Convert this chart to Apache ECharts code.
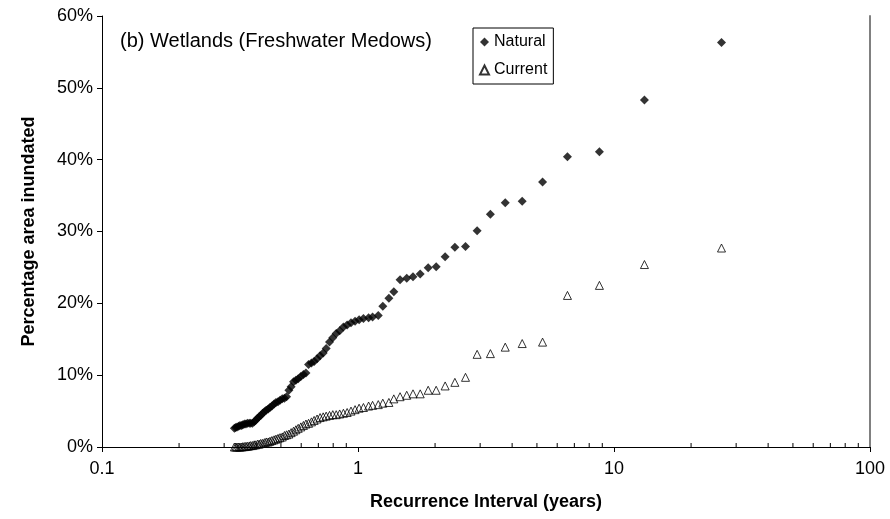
<!DOCTYPE html>
<html>
<head>
<meta charset="utf-8">
<script src="https://cdn.jsdelivr.net/npm/echarts@6/dist/echarts.min.js"></script>
<style>
html,body{margin:0;padding:0;background:#fff;}
#chart{width:890px;height:519px;}
</style>
</head>
<body>
<div id="chart"></div>
<script>
// Recurrence interval (years), shared by both series
var recurrence = [26.3, 13.15, 8.77, 6.58, 5.26, 4.38, 3.76, 3.29, 2.92, 2.63,
  2.39, 2.19, 2.02, 1.88, 1.75, 1.64, 1.55, 1.46, 1.38, 1.32,
  1.25, 1.20, 1.14, 1.10, 1.05, 1.01, 0.974, 0.939, 0.907, 0.877,
  0.848, 0.822, 0.797, 0.774, 0.751, 0.731, 0.711, 0.692, 0.674, 0.658,
  0.641, 0.626, 0.612, 0.598, 0.584, 0.572, 0.560, 0.548, 0.537, 0.526,
  0.516, 0.506, 0.496, 0.487, 0.478, 0.470, 0.461, 0.453, 0.446, 0.438,
  0.431, 0.424, 0.417, 0.411, 0.405, 0.398, 0.393, 0.387, 0.381, 0.376,
  0.370, 0.365, 0.360, 0.355, 0.351, 0.346, 0.342, 0.337, 0.333, 0.329];

// Percentage area inundated, natural conditions
var naturalPct = [56.3, 48.3, 41.1, 40.4, 36.9, 34.2, 34.0, 32.4, 30.1, 27.9,
  27.8, 26.5, 25.1, 24.95, 24.1, 23.7, 23.5, 23.3, 21.6, 20.7,
  19.6, 18.3, 18.1, 18.0, 17.9, 17.7, 17.5, 17.3, 17.0, 16.7,
  16.2, 15.8, 15.2, 14.6, 13.7, 13.1, 12.7, 12.3, 11.9, 11.7,
  11.5, 10.3, 10.1, 9.8, 9.5, 9.3, 9.1, 8.4, 7.9, 7.0,
  6.8, 6.7, 6.5, 6.3, 6.2, 6.0, 5.7, 5.5, 5.3, 5.1,
  4.9, 4.7, 4.4, 4.2, 4.0, 3.7, 3.5, 3.3, 3.3, 3.3,
  3.3, 3.2, 3.2, 3.1, 3.0, 3.0, 2.9, 2.8, 2.7, 2.6];

// Percentage area inundated, current conditions
var currentPct = [27.7, 25.4, 22.5, 21.1, 14.6, 14.4, 13.9, 13.0, 12.9, 9.7,
  9.0, 8.5, 7.9, 7.9, 7.4, 7.4, 7.2, 7.0, 6.7, 6.2,
  6.1, 5.9, 5.8, 5.7, 5.5, 5.4, 5.2, 5.0, 4.8, 4.7,
  4.6, 4.5, 4.5, 4.4, 4.3, 4.2, 4.1, 3.9, 3.7, 3.5,
  3.3, 3.2, 3.0, 2.8, 2.6, 2.4, 2.2, 2.0, 1.8, 1.7,
  1.6, 1.4, 1.3, 1.2, 1.1, 1.0, 0.9, 0.8, 0.7, 0.7,
  0.6, 0.5, 0.5, 0.4, 0.4, 0.3, 0.3, 0.2, 0.2, 0.15,
  0.1, 0.1, 0.05, 0.05, 0.0, 0.0, 0.0, 0.0, 0.0, 0.0];

var minorTicks = [0.2, 0.3, 0.4, 0.5, 0.6, 0.7, 0.8, 0.9,
  2, 3, 4, 5, 6, 7, 8, 9, 20, 30, 40, 50, 60, 70, 80, 90];
var titleText = '(b) Wetlands (Freshwater Medows)';

function pairs(xs, ys) {
  return xs.map(function (x, i) { return [x, ys[i]]; });
}

var FONT = 'Liberation Sans, Arial, sans-serif';
var chart = echarts.init(document.getElementById('chart'), null, {renderer: 'canvas'});

chart.setOption({
  animation: false,
  backgroundColor: '#fff',
  grid: {left: 102, right: 20, top: 16, bottom: 72},
  graphic: [{
    type: 'text', left: 120, top: 31,
    style: {text: titleText, font: '20px ' + FONT, fill: '#000'}
  }],
  legend: {
    orient: 'vertical', left: 473, top: 28,
    padding: [6, 6, 6, 6], itemGap: 12,
    itemWidth: 9, itemHeight: 9,
    borderColor: '#000', borderWidth: 1, backgroundColor: '#fff',
    textStyle: {fontFamily: FONT, fontSize: 16, color: '#000'},
    data: [
      {name: 'Natural', icon: 'diamond'},
      {name: 'Current', icon: 'triangle'}
    ]
  },
  xAxis: [{
    type: 'log', logBase: 10, min: 0.1, max: 100,
    name: 'Recurrence Interval (years)', nameLocation: 'middle', nameGap: 46,
    nameTextStyle: {fontFamily: FONT, fontSize: 18, fontWeight: 'bold', color: '#000'},
    axisLine: {lineStyle: {color: '#000', width: 1}},
    axisTick: {show: true, length: 5, lineStyle: {color: '#000'}},
    axisLabel: {fontFamily: FONT, fontSize: 18, color: '#000', margin: 13,
      formatter: function (v) { return String(Math.round(v * 1000) / 1000); }},
    splitLine: {show: false}
  }, {
    type: 'log', logBase: 10, min: 0.1, max: 100, position: 'top',
    axisLine: {lineStyle: {color: '#000', width: 1}},
    axisTick: {show: false}, axisLabel: {show: false}, splitLine: {show: false}
  }],
  yAxis: [{
    type: 'value', min: 0, max: 60, interval: 10,
    name: 'Percentage area inundated', nameLocation: 'middle', nameGap: 64,
    nameTextStyle: {fontFamily: FONT, fontSize: 18, fontWeight: 'bold', color: '#000'},
    axisLine: {show: true, lineStyle: {color: '#000', width: 1}},
    axisTick: {show: true, length: 5, lineStyle: {color: '#000'}},
    axisLabel: {fontFamily: FONT, fontSize: 18, color: '#000', margin: 9,
      formatter: function (v) { return v + '%'; }},
    splitLine: {show: false}
  }, {
    type: 'value', min: 0, max: 60, interval: 10, position: 'right',
    axisLine: {show: true, lineStyle: {color: '#808080', width: 2}},
    axisTick: {show: false}, axisLabel: {show: false}, splitLine: {show: false}
  }],
  series: [{
    name: 'minorTicks', type: 'custom', silent: true,
    data: minorTicks.map(function (v) { return [v, 0]; }),
    renderItem: function (params, api) {
      var p = api.coord([api.value(0), 0]);
      return {type: 'line', shape: {x1: p[0], y1: p[1], x2: p[0], y2: p[1] - 4},
        style: {stroke: '#000', lineWidth: 1}};
    },
    z: 1
  }, {
    name: 'Natural', type: 'scatter', symbol: 'diamond', symbolSize: 9,
    itemStyle: {color: '#000'},
    data: pairs(recurrence, naturalPct), z: 3
  }, {
    name: 'Current', type: 'scatter', symbol: 'triangle', symbolSize: 8,
    itemStyle: {color: 'rgba(255,255,255,0)', borderColor: '#000', borderWidth: 1},
    data: pairs(recurrence, currentPct), z: 2
  }]
});
</script>
</body>
</html>
